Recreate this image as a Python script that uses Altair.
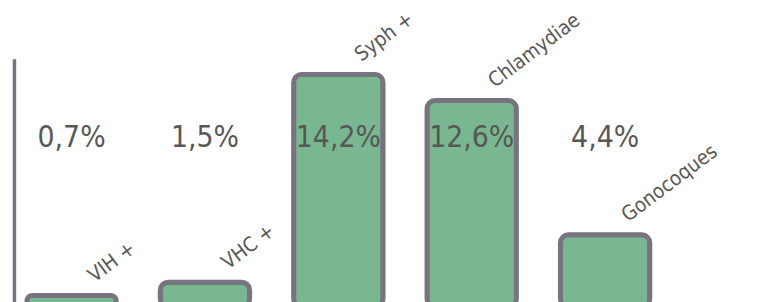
import altair as alt
import pandas as pd

categories = ["VIH +", "VHC +", "Syph +", "Chlamydiae", "Gonocoques"]
values = [0.7, 1.5, 14.2, 12.6, 4.4]
pct_labels = ["0,7%", "1,5%", "14,2%", "12,6%", "4,4%"]

df = pd.DataFrame({"cat": categories, "val": values, "pct": pct_labels})

FONT = "DejaVu Sans Condensed, sans-serif"
GRAY = "#77737f"
TXT = "#575757"

x = alt.X("cat:N", sort=categories,
          scale=alt.Scale(paddingInner=0.33, paddingOuter=0.097),
          axis=None)
y = alt.Y("val:Q", scale=alt.Scale(domain=[0, 15.15], nice=False, zero=True),
          axis=alt.Axis(labels=False, ticks=False, grid=False, title=None,
                        domainColor=GRAY, domainWidth=3.5))

bars = alt.Chart(df).mark_bar(
    fill="#79b791", stroke=GRAY, strokeWidth=5, cornerRadius=8
).encode(x=x, y=y)

names = alt.Chart(df).mark_text(
    angle=323, align="left", baseline="alphabetic", dx=26, dy=4,
    font=FONT, fontSize=20.5, color=TXT
).encode(x=x, y=y, text="cat:N")

pcts = alt.Chart(df).mark_text(
    align="center", baseline="middle", font=FONT, fontSize=30, color=TXT
).encode(x=x, y=alt.value(80), text="pct:N")

chart = alt.layer(bars, pcts, names).properties(
    width=654, height=250,
    autosize=alt.AutoSizeParams(type="none"),
    padding={"left": 6, "top": 50, "right": 90, "bottom": 10},
).configure_view(stroke=None)

chart.save("out.html", embed_options={"renderer": "svg", "actions": False})
